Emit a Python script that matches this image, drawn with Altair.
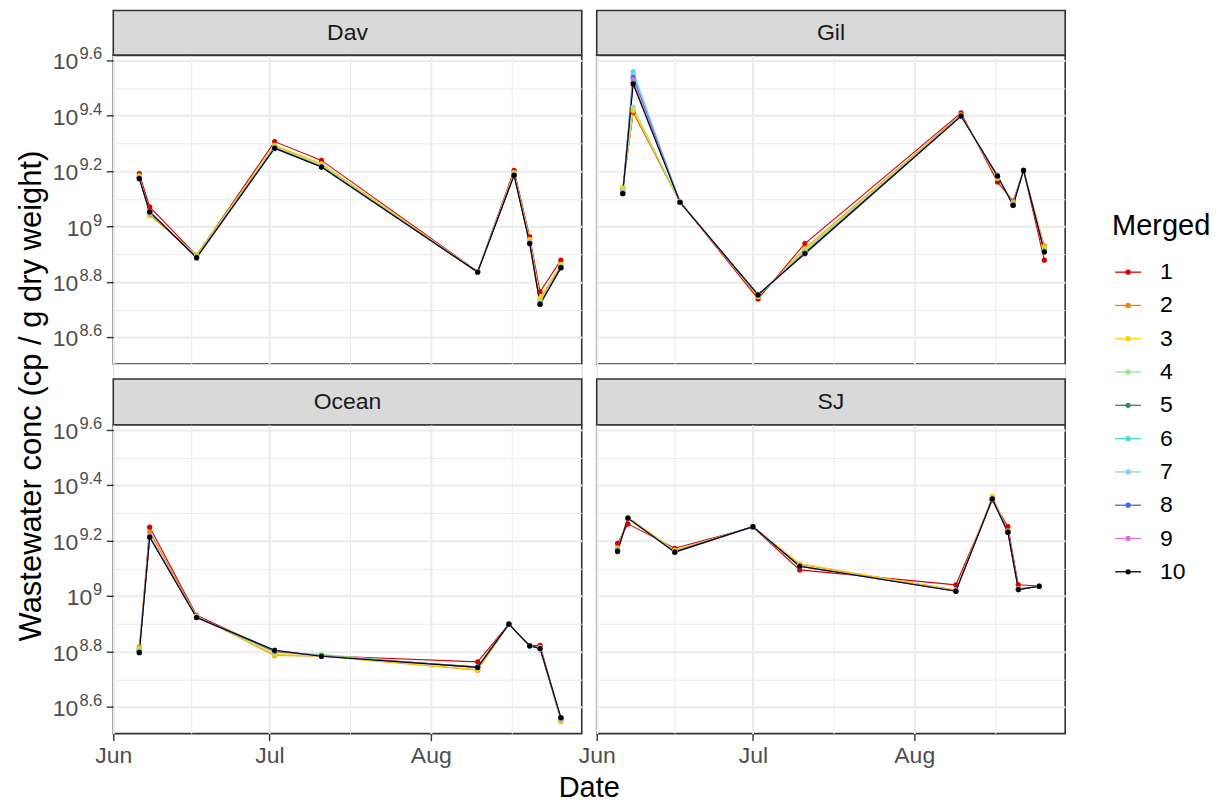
import altair as alt
import pandas as pd

FONT = "Liberation Sans"

# ---------------- data ----------------
sites = ["Dav", "Gil", "Ocean", "SJ"]
series = ["1", "2", "3", "4", "5", "6", "7", "8", "9", "10"]
series_colors = ["#D70000", "#F28200", "#FFD200", "#8FEA8F", "#2E8B57",
                 "#40E0D0", "#87CEFA", "#4169E1", "#DA70D6", "#000000"]

dav_dates = ["2021-06-06", "2021-06-08", "2021-06-17", "2021-07-02", "2021-07-11",
             "2021-08-10", "2021-08-17", "2021-08-20", "2021-08-22", "2021-08-26"]
gil_dates = ["2021-06-06", "2021-06-08", "2021-06-17", "2021-07-02", "2021-07-11",
             "2021-08-10", "2021-08-17", "2021-08-20", "2021-08-22", "2021-08-26"]
ocean_dates = ["2021-06-06", "2021-06-08", "2021-06-17", "2021-07-02", "2021-07-11",
               "2021-08-10", "2021-08-16", "2021-08-20", "2021-08-22", "2021-08-26"]
sj_dates = ["2021-06-05", "2021-06-07", "2021-06-16", "2021-07-01", "2021-07-10",
            "2021-08-09", "2021-08-16", "2021-08-19", "2021-08-21", "2021-08-25"]

# log10 concentrations, one list per Merged series (1..10)
dav_vals = [
    [9.191, 9.071, 8.896, 9.307, 9.239, 8.838, 9.203, 8.963, 8.765, 8.879],
    [9.182, 9.041, 8.899, 9.292, 9.226, 8.837, 9.194, 8.951, 8.738, 8.862],
    [9.183, 9.045, 8.897, 9.294, 9.227, 8.837, 9.195, 8.954, 8.742, 8.864],
    [9.179, 9.048, 8.893, 9.289, 9.221, 8.837, 9.190, 8.946, 8.729, 8.856],
    [9.176, 9.051, 8.890, 9.285, 9.217, 8.836, 9.187, 8.941, 8.719, 8.852],
    [9.177, 9.050, 8.891, 9.282, 9.218, 8.836, 9.188, 8.943, 8.723, 8.854],
    [9.176, 9.051, 8.890, 9.280, 9.216, 8.836, 9.187, 8.942, 8.721, 8.853],
    [9.174, 9.054, 8.889, 9.284, 9.216, 8.836, 9.186, 8.940, 8.721, 8.852],
    [9.175, 9.052, 8.886, 9.284, 9.215, 8.836, 9.186, 8.941, 8.722, 8.852],
    [9.173, 9.053, 8.888, 9.283, 9.215, 8.836, 9.185, 8.939, 8.720, 8.852],
]
gil_vals = [
    [9.135, 9.413, 9.089, 8.739, 8.939, 9.411, 9.161, 9.092, 9.203, 8.879],
    [9.140, 9.416, 9.090, 8.747, 8.921, 9.404, 9.174, 9.090, 9.203, 8.931],
    [9.138, 9.420, 9.090, 8.748, 8.919, 9.402, 9.176, 9.086, 9.203, 8.925],
    [9.130, 9.431, 9.089, 8.750, 8.913, 9.401, 9.178, 9.084, 9.203, 8.918],
    [9.122, 9.520, 9.088, 8.752, 8.907, 9.400, 9.181, 9.080, 9.203, 8.912],
    [9.124, 9.559, 9.089, 8.753, 8.906, 9.400, 9.182, 9.079, 9.203, 8.911],
    [9.123, 9.551, 9.088, 8.753, 8.905, 9.400, 9.182, 9.079, 9.203, 8.910],
    [9.120, 9.539, 9.088, 8.754, 8.904, 9.399, 9.183, 9.078, 9.203, 8.909],
    [9.121, 9.531, 9.088, 8.756, 8.901, 9.399, 9.185, 9.076, 9.203, 8.910],
    [9.119, 9.515, 9.088, 8.754, 8.903, 9.399, 9.183, 9.077, 9.203, 8.909],
]
ocean_vals = [
    [8.806, 9.249, 8.931, 8.800, 8.785, 8.763, 8.899, 8.821, 8.823, 8.556],
    [8.817, 9.232, 8.929, 8.786, 8.783, 8.733, 8.899, 8.821, 8.815, 8.547],
    [8.812, 9.214, 8.927, 8.790, 8.784, 8.735, 8.899, 8.821, 8.814, 8.548],
    [8.805, 9.216, 8.926, 8.796, 8.790, 8.742, 8.899, 8.821, 8.813, 8.554],
    [8.800, 9.215, 8.924, 8.801, 8.786, 8.743, 8.899, 8.821, 8.812, 8.558],
    [8.801, 9.218, 8.925, 8.804, 8.785, 8.744, 8.899, 8.821, 8.809, 8.560],
    [8.799, 9.217, 8.924, 8.806, 8.784, 8.744, 8.899, 8.821, 8.810, 8.559],
    [8.795, 9.214, 8.923, 8.803, 8.783, 8.745, 8.899, 8.821, 8.811, 8.561],
    [8.798, 9.215, 8.924, 8.804, 8.784, 8.743, 8.899, 8.821, 8.811, 8.560],
    [8.797, 9.213, 8.923, 8.805, 8.783, 8.743, 8.899, 8.821, 8.811, 8.562],
]
sj_vals = [
    [9.191, 9.261, 9.173, 9.249, 9.095, 9.041, 9.347, 9.251, 9.041, 9.037],
    [9.175, 9.283, 9.165, 9.250, 9.115, 9.022, 9.358, 9.236, 9.027, 9.036],
    [9.172, 9.285, 9.166, 9.250, 9.118, 9.020, 9.361, 9.235, 9.026, 9.036],
    [9.168, 9.281, 9.162, 9.251, 9.110, 9.019, 9.352, 9.232, 9.025, 9.036],
    [9.166, 9.280, 9.161, 9.251, 9.109, 9.019, 9.350, 9.232, 9.025, 9.036],
    [9.165, 9.281, 9.160, 9.251, 9.109, 9.018, 9.351, 9.231, 9.024, 9.036],
    [9.165, 9.280, 9.160, 9.251, 9.108, 9.018, 9.351, 9.231, 9.024, 9.036],
    [9.164, 9.281, 9.160, 9.251, 9.108, 9.018, 9.350, 9.231, 9.024, 9.036],
    [9.160, 9.281, 9.158, 9.250, 9.107, 9.018, 9.350, 9.230, 9.024, 9.036],
    [9.162, 9.282, 9.159, 9.251, 9.108, 9.018, 9.351, 9.231, 9.024, 9.036],
]

# y tick labels are 10^exponent (log10 axis)
y_major = [8.6, 8.8, 9.0, 9.2, 9.4, 9.6]
y_tick_base = ["10", "10", "10", "10", "10", "10"]
y_tick_exp = ["8.6", "8.8", "9", "9.2", "9.4", "9.6"]
y_minor = [8.5, 8.7, 8.9, 9.1, 9.3, 9.5]
x_major = [(2021, 6, 1, 0), (2021, 7, 1, 0), (2021, 8, 1, 0)]
x_minor = [(2021, 6, 16, 0), (2021, 7, 16, 12), (2021, 8, 16, 12)]

y_title = "Wastewater conc (cp / g dry weight)"
x_title = "Date"
legend_title = "Merged"

# ---------------- build tables ----------------
site_dates = {"Dav": dav_dates, "Gil": gil_dates, "Ocean": ocean_dates, "SJ": sj_dates}
site_vals = {"Dav": dav_vals, "Gil": gil_vals, "Ocean": ocean_vals, "SJ": sj_vals}
rows = []
for site in sites:
    for si, s in enumerate(series):
        for d, v in zip(site_dates[site], site_vals[site][si]):
            rows.append({"site": site, "date": d, "Merged": s, "idx": si + 1, "value": v})
df = pd.DataFrame(rows)
ylab_df = pd.DataFrame({"value": y_major, "base": y_tick_base, "exp": y_tick_exp})

W, H = 469, 309
BORDER = "#333333"
GRIDC = "#EBEBEB"
TICKLAB = "#4D4D4D"


def dt(t):
    return alt.DateTime(year=t[0], month=t[1], date=t[2], hours=t[3], utc=True)


y_major_test = "round(datum.value*10) % 2 == 0"
x_major_test = "utcdate(datum.value) == 1"

color_enc = alt.Color("Merged:N", scale=alt.Scale(domain=series, range=series_colors), legend=None)


def x_enc(show):
    ax = alt.Axis(
        values=[dt(t) for t in sorted(x_major + x_minor)],
        title=None, domain=False, grid=True, gridColor=GRIDC,
        gridWidth={"condition": {"test": x_major_test, "value": 2}, "value": 1},
        labels=show, ticks=show, labelExpr=f"{x_major_test} ? utcFormat(datum.value, '%b') : ''",
        tickOpacity={"condition": {"test": x_major_test, "value": 1}, "value": 0},
        tickColor=BORDER, tickSize=7, tickWidth=1.4, labelPadding=4,
        labelFont=FONT, labelFontSize=23, labelColor=TICKLAB, labelFlush=False,
        labelOverlap=False,
    )
    return alt.X("date:T", axis=ax,
                 scale=alt.Scale(type="utc", domain=[dt((2021, 6, 1, 0)), dt((2021, 8, 30, 0))]))


def y_enc(show):
    ax = alt.Axis(
        values=sorted(y_major + y_minor), title=None, domain=False, grid=True, gridColor=GRIDC,
        gridWidth={"condition": {"test": y_major_test, "value": 2}, "value": 1},
        labels=False, ticks=show,
        tickOpacity={"condition": {"test": y_major_test, "value": 1}, "value": 0},
        tickColor=BORDER, tickSize=7, tickWidth=1.4,
    )
    return alt.Y("value:Q", axis=ax, scale=alt.Scale(domain=[8.504, 9.618], nice=False, zero=False))


def data_layers(site, left, bottom):
    d = df[df["site"] == site]
    base = alt.Chart(d)
    x, y = x_enc(bottom), y_enc(left)
    lines_a = base.transform_filter("datum.Merged != '10'").mark_line(strokeWidth=1.1).encode(
        x=x, y=y, color=color_enc)
    lines_b = base.transform_filter("datum.Merged == '10'").mark_line(strokeWidth=1.1).encode(
        x=x, y=y, color=color_enc)
    pts = base.mark_circle(size=27, opacity=1).encode(
        x=x, y=y, color=color_enc, order=alt.Order("idx:Q"))
    layers = [lines_a, lines_b, pts]
    if left:
        # tick labels 10^x drawn as base + raised exponent, right-aligned at the ticks
        lb = alt.Chart(ylab_df)
        yl = y_enc(True)
        exp_t = lb.mark_text(font=FONT, fontSize=16.5, align="right", baseline="alphabetic",
                             color=TICKLAB, dy=-1).encode(x=alt.value(-11), y=yl, text="exp:N")
        base_dec = lb.transform_filter("indexof(datum.exp, '.') >= 0").mark_text(
            font=FONT, fontSize=23, align="right", baseline="middle", color=TICKLAB, dy=2
        ).encode(x=alt.value(-35), y=yl, text="base:N")
        base_int = lb.transform_filter("indexof(datum.exp, '.') < 0").mark_text(
            font=FONT, fontSize=23, align="right", baseline="middle", color=TICKLAB, dy=2
        ).encode(x=alt.value(-21), y=yl, text="base:N")
        layers += [exp_t, base_dec, base_int]
    return alt.layer(*layers)


def text_layer(txt, x, y, size, **kw):
    return alt.Chart(pd.DataFrame({"t": [txt]})).mark_text(
        font=FONT, fontSize=size, color="black", **kw
    ).encode(x=alt.value(x), y=alt.value(y), text="t:N")


PANEL_VIEW = alt.ViewBackground(stroke=BORDER, strokeWidth=1.6, fill="white")

# Dav panel carries the shared y title
p_dav = alt.layer(
    data_layers("Dav", True, False),
    text_layer(y_title, -72, 341, 31, angle=270, align="center", baseline="alphabetic"),
).properties(width=W, height=H, view=PANEL_VIEW)

# Gil panel carries the legend (own point scale for the legend rows)
leg_df = pd.DataFrame({"Merged": series})
ly = alt.Y("Merged:N", sort=series,
           scale=alt.Scale(type="point", domain=series, range=[217, 517], padding=0), axis=None)
lbase = alt.Chart(leg_df)
l_rules = lbase.mark_rule(strokeWidth=1.3).encode(
    x=alt.value(519), x2=alt.value(545), y=ly, color=color_enc)
l_dots = lbase.mark_circle(size=28, opacity=1).encode(x=alt.value(532), y=ly, color=color_enc)
l_text = lbase.mark_text(font=FONT, fontSize=23, align="left", baseline="middle", color="black").encode(
    x=alt.value(564), y=ly, text="Merged:N")
l_title = text_layer(legend_title, 516, 171, 29, align="left", baseline="middle")
legend = alt.layer(l_rules, l_dots, l_text, l_title)
p_gil = alt.layer(data_layers("Gil", False, False), legend).resolve_scale(y="independent").properties(
    width=W, height=H, view=PANEL_VIEW)

# Ocean panel carries the shared x title
p_ocean = alt.layer(
    data_layers("Ocean", True, True),
    text_layer(x_title, 476.5, 372, 29, align="center", baseline="alphabetic"),
).properties(width=W, height=H, view=PANEL_VIEW)

p_sj = data_layers("SJ", False, True).properties(width=W, height=H, view=PANEL_VIEW)


def strip(site, top, sh):
    base = alt.Chart(pd.DataFrame({"site": [site]}))
    rect = base.mark_rect(fill="#D9D9D9", stroke=BORDER, strokeWidth=1.6).encode(
        x=alt.value(0), x2=alt.value(W), y=alt.value(top), y2=alt.value(top + sh))
    txt = base.mark_text(font=FONT, fontSize=23, color="#1A1A1A").encode(
        x=alt.value(W / 2), y=alt.value(top + sh / 2), text="site:N")
    return alt.layer(rect, txt).properties(width=W, height=top + sh)


chart = alt.concat(
    strip("Dav", 0, 45), strip("Gil", 0, 45),
    p_dav, p_gil,
    strip("Ocean", 15, 46), strip("SJ", 15, 46),
    p_ocean, p_sj,
    columns=2, spacing={"row": 0, "column": 15}, bounds="flush",
).properties(
    padding={"left": 7.4, "top": 0, "right": 0, "bottom": 0}, background="white"
).configure_view(stroke="transparent").configure(font=FONT)

chart.save("out.html", embed_options={"renderer": "svg", "actions": False})
